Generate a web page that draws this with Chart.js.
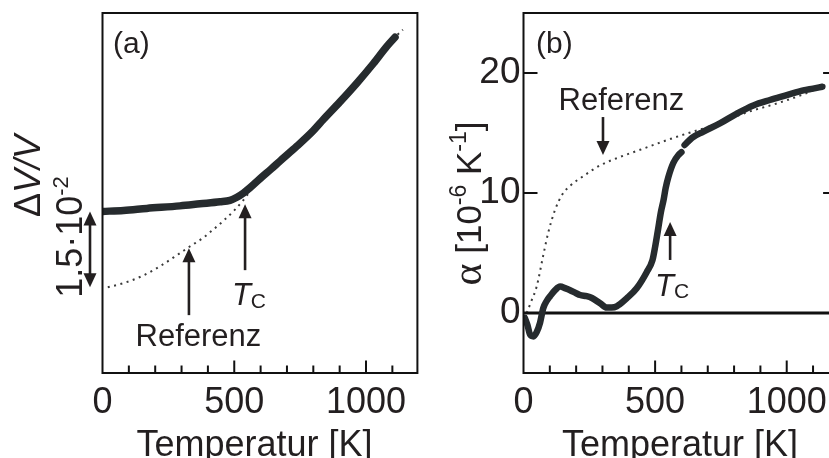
<!DOCTYPE html>
<html>
<head>
<meta charset="utf-8">
<script src="https://cdn.jsdelivr.net/npm/chart.js@4.4.0/dist/chart.umd.min.js"></script>
<style>
  html, body { margin: 0; padding: 0; background: #fff; overflow: hidden; width: 829px; height: 458px; }
  .panel { position: absolute; top: 0; width: 420px; height: 458px; }
  #wrapA { left: 0; }
  #wrapB { left: 420px; }
</style>
</head>
<body>
<div id="wrapA" class="panel"><canvas id="chartA" width="420" height="458"></canvas></div>
<div id="wrapB" class="panel"><canvas id="chartB" width="420" height="458"></canvas></div>
<script>
// ---- (a) relative volume change ΔV/V, in units of 10^-2, reference at 0 K set to 0 ----
const tempA = [0, 80, 168, 294, 370, 446, 484, 510, 534, 560, 598, 640, 674, 737, 800, 838, 901, 965, 1028, 1079, 1110];
const dvvA  = [1.50, 1.52, 1.56, 1.61, 1.65, 1.69, 1.72, 1.78, 1.86, 1.97, 2.15, 2.34, 2.50, 2.79, 3.10, 3.32, 3.67, 4.04, 4.43, 4.77, 4.95];
const tempRefA = [20, 80, 150, 220, 290, 330, 380, 420, 460, 500, 534, 560, 598, 640, 737, 800, 901, 1028, 1110, 1140];
const dvvRefA  = [0.00, 0.08, 0.22, 0.42, 0.66, 0.80, 0.97, 1.14, 1.32, 1.52, 1.72, 1.90, 2.13, 2.33, 2.78, 3.09, 3.66, 4.42, 4.95, 5.10];
const stepA = 1.5; // offset between measurement and reference at 0 K (x 10^-2)

// ---- (b) thermal expansion coefficient α, in 10^-6 K^-1 ----
const tempB  = [5, 15, 25, 38, 50, 63, 75, 88, 101, 120, 139, 160, 177, 200, 215, 240, 260, 291, 316, 335, 354, 392, 430, 468, 490, 500, 510, 522, 532, 540, 550, 569, 590, 600, null, 612, 640, 682, 746, 809, 873, 936, 1000, 1063, 1100, 1135];
const alphaB = [-0.4, -1.0, -1.8, -1.95, -1.6, -0.8, 0.4, 1.0, 1.4, 1.9, 2.2, 2.05, 1.9, 1.65, 1.5, 1.4, 1.25, 0.81, 0.45, 0.45, 0.55, 1.22, 2.06, 3.4, 4.4, 5.5, 6.8, 8.4, 9.4, 10.4, 11.3, 12.5, 13.2, 13.4, null, 14.0, 14.6, 15.1, 15.8, 16.6, 17.3, 17.75, 18.15, 18.55, 18.7, 18.85];
const tempRefB  = [12, 30, 50, 75, 94, 120, 148, 177, 227, 291, 354, 443, 544, 620, 700, 780, 860, 968, 1060, 1165];
const alphaRefB = [0.0, 1.0, 2.2, 4.8, 6.7, 8.6, 9.9, 10.6, 11.4, 12.3, 12.9, 13.6, 14.4, 14.95, 15.5, 16.15, 16.8, 17.5, 18.2, 19.15];

// ---- axis ticks ----
const xTickLabels = [0, 500, 1000];
const xMinorTicks = [100, 200, 300, 400, 600, 700, 800, 900, 1100];
const yTickLabelsB = [0, 10, 20];

const FONT = '"Liberation Sans", Arial, Helvetica, sans-serif';
const SERIF = '"Liberation Serif", "Times New Roman", serif';
const INK = '#231f20';
const DATA_INK = '#262b2e';
const REF_INK = '#3a3a3a';

function pts(xs, ys) { return xs.map((x, i) => ({ x: x, y: ys[i] })); }

function baseOptions(xMax, yMin, yMax, yTicks, yWidth, padRight) {
  return {
    responsive: false,
    animation: false,
    devicePixelRatio: 1,
    layout: { padding: { left: 0, right: padRight, top: 13, bottom: 0 } },
    plugins: { legend: { display: false }, tooltip: { enabled: false } },
    elements: { point: { radius: 0 } },
    scales: {
      x: {
        type: 'linear', min: 0, max: xMax,
        afterBuildTicks: s => { s.ticks = xTickLabels.map(v => ({ value: v })); },
        afterFit: s => { s.height = 85; s.paddingLeft = 0; s.paddingRight = 0; },
        grid: { display: false, drawTicks: false },
        border: { display: false },
        ticks: { font: { family: FONT, size: 36, lineHeight: 1.2 }, color: INK, padding: 8,
                 maxRotation: 0, autoSkip: false, callback: v => String(v) }
      },
      y: {
        type: 'linear', min: yMin, max: yMax,
        afterBuildTicks: s => { s.ticks = yTicks.map(v => ({ value: v })); },
        afterFit: s => { s.width = yWidth; s.paddingTop = 0; s.paddingBottom = 0; },
        grid: { display: false, drawTicks: false },
        border: { display: false },
        ticks: { display: yTicks.length > 0, font: { family: FONT, size: 37 }, color: INK,
                 padding: 3, callback: v => String(v) }
      }
    }
  };
}

// vertical arrow from (x, yTail) to (x, yTip); optional second head at the tail
function vArrow(ctx, x, yTail, yTip, both) {
  const dir = yTip < yTail ? -1 : 1;
  const headL = 14, half = 6.5;
  ctx.save();
  ctx.strokeStyle = INK; ctx.fillStyle = INK; ctx.lineWidth = 2.6;
  ctx.beginPath();
  ctx.moveTo(x, both ? yTail + dir * headL * 0.8 : yTail);
  ctx.lineTo(x, yTip - dir * headL * 0.8);
  ctx.stroke();
  const head = (yt, d) => {
    ctx.beginPath();
    ctx.moveTo(x, yt);
    ctx.lineTo(x - half, yt - d * headL);
    ctx.lineTo(x + half, yt - d * headL);
    ctx.closePath();
    ctx.fill();
  };
  head(yTip, dir);
  if (both) head(yTail, -dir);
  ctx.restore();
}

// text made of runs (font, raise) drawn along one baseline, optionally rotated
function richText(ctx, runs, x, y, align, rotate) {
  ctx.save();
  ctx.translate(x, y);
  if (rotate) ctx.rotate(rotate);
  ctx.fillStyle = INK;
  ctx.textBaseline = 'alphabetic';
  ctx.textAlign = 'left';
  let total = 0;
  runs.forEach(r => { ctx.font = r.font; r.w = ctx.measureText(r.t).width; total += r.w; });
  let cx = align === 'center' ? -total / 2 : 0;
  runs.forEach(r => { ctx.font = r.font; ctx.fillText(r.t, cx, -(r.raise || 0)); cx += r.w; });
  ctx.restore();
}

function drawXTicks(ctx, x, bottom) {
  ctx.strokeStyle = '#111'; ctx.lineWidth = 2;
  xMinorTicks.forEach(v => {
    const px = x.getPixelForValue(v);
    ctx.beginPath(); ctx.moveTo(px, bottom); ctx.lineTo(px, bottom - 7.5); ctx.stroke();
  });
  xTickLabels.filter(v => v > 0).forEach(v => {
    const px = x.getPixelForValue(v);
    ctx.beginPath(); ctx.moveTo(px, bottom); ctx.lineTo(px, bottom - 12.5); ctx.stroke();
  });
}

function drawFrame(ctx, a) {
  ctx.strokeStyle = '#111'; ctx.lineWidth = 2;
  ctx.strokeRect(a.left, a.top, a.right - a.left, a.bottom - a.top);
}

const TITLE_FONT = '36px ' + FONT;

// ---------- panel (a) ----------
const decorA = {
  id: 'decorA',
  afterDraw(chart) {
    const { ctx, chartArea: a, scales: { x, y } } = chart;
    ctx.save();
    drawFrame(ctx, a);
    drawXTicks(ctx, x, a.bottom);

    // panel letter
    richText(ctx, [{ t: '(a)', font: '30px ' + FONT }], x.getPixelForValue(40), y.getPixelForValue(4.63), 'left');

    // reference curve label and arrow
    vArrow(ctx, x.getPixelForValue(328), y.getPixelForValue(-0.554), y.getPixelForValue(0.772));
    richText(ctx, [{ t: 'Referenz', font: '31px ' + FONT }], x.getPixelForValue(364), y.getPixelForValue(-1.168), 'center');

    // Curie temperature
    vArrow(ctx, x.getPixelForValue(541), y.getPixelForValue(0.337), y.getPixelForValue(1.644));
    richText(ctx, [
      { t: 'T', font: 'italic 31px ' + FONT },
      { t: 'C', font: '21px ' + FONT, raise: -3 }
    ], x.getPixelForValue(491), y.getPixelForValue(-0.356), 'left');

    // scale bar: 1.5·10^-2 between measurement and reference at 0 K
    vArrow(ctx, a.left - 12.5, y.getPixelForValue(0), y.getPixelForValue(stepA), true);
    richText(ctx, [
      { t: '1.5\u00B710', font: '36px ' + FONT },
      { t: '-2', font: '22px ' + FONT, raise: 14 }
    ], 82, 237, 'center', -Math.PI / 2);

    // axis titles
    richText(ctx, [
      { t: '\u0394', font: '36px ' + FONT },
      { t: 'V/V', font: 'italic 36px ' + FONT }
    ], 40, 176, 'center', -Math.PI / 2);
    richText(ctx, [{ t: 'Temperatur [K]', font: TITLE_FONT }], 254.5, 456, 'center');
    ctx.restore();
  }
};

new Chart(document.getElementById('chartA'), {
  type: 'scatter',
  data: {
    datasets: [
      { label: 'Messung', data: pts(tempA, dvvA), showLine: true, borderColor: DATA_INK,
        borderWidth: 7.5, borderCapStyle: 'round', borderJoinStyle: 'round',
        cubicInterpolationMode: 'monotone', pointRadius: 0, order: 0 },
      { label: 'Referenz', data: pts(tempRefA, dvvRefA), showLine: true, borderColor: REF_INK,
        borderWidth: 2, borderDash: [2, 4.5], cubicInterpolationMode: 'monotone',
        pointRadius: 0, order: 1 }
    ]
  },
  options: baseOptions(1195, -1.7, 5.43, [], 102.5, 2.6),
  plugins: [decorA]
});

// ---------- panel (b) ----------
const decorB = {
  id: 'decorB',
  beforeDatasetsDraw(chart) {
    const { ctx, chartArea: a, scales: { y } } = chart;
    const y0 = y.getPixelForValue(0);
    ctx.save();
    ctx.strokeStyle = '#111'; ctx.lineWidth = 3;
    ctx.beginPath(); ctx.moveTo(a.left, y0); ctx.lineTo(a.right, y0); ctx.stroke();
    ctx.restore();
  },
  afterDraw(chart) {
    const { ctx, chartArea: a, scales: { x, y } } = chart;
    ctx.save();
    drawFrame(ctx, a);
    drawXTicks(ctx, x, a.bottom);
    ctx.strokeStyle = '#111'; ctx.lineWidth = 2;
    yTickLabelsB.forEach(v => {
      const py = y.getPixelForValue(v);
      ctx.beginPath(); ctx.moveTo(a.left, py); ctx.lineTo(a.left + 14, py); ctx.stroke();
      ctx.beginPath(); ctx.moveTo(a.right, py); ctx.lineTo(a.right - 11, py); ctx.stroke();
    });

    richText(ctx, [{ t: '(b)', font: '30px ' + FONT }], x.getPixelForValue(47.5), y.getPixelForValue(21.67), 'left');

    richText(ctx, [{ t: 'Referenz', font: '31px ' + FONT }], x.getPixelForValue(372), y.getPixelForValue(16.92), 'center');
    vArrow(ctx, x.getPixelForValue(302), y.getPixelForValue(16.33), y.getPixelForValue(13.17));

    vArrow(ctx, x.getPixelForValue(557), y.getPixelForValue(4.42), y.getPixelForValue(7.58));
    richText(ctx, [
      { t: 'T', font: 'italic 31px ' + FONT },
      { t: 'C', font: '21px ' + FONT, raise: -2 }
    ], x.getPixelForValue(500), y.getPixelForValue(1.42), 'left');

    richText(ctx, [
      { t: '\u03B1', font: '42px ' + SERIF },
      { t: ' [10', font: '35px ' + FONT },
      { t: '-6', font: '23px ' + FONT, raise: 15 },
      { t: ' K', font: '35px ' + FONT },
      { t: '-1', font: '23px ' + FONT, raise: 15 },
      { t: ']', font: '35px ' + FONT }
    ], 61, 203.5, 'center', -Math.PI / 2);
    richText(ctx, [{ t: 'Temperatur [K]', font: TITLE_FONT }], 260, 456, 'center');
    ctx.restore();
  }
};

new Chart(document.getElementById('chartB'), {
  type: 'scatter',
  data: {
    datasets: [
      { label: 'Messung', data: pts(tempB, alphaB), showLine: true, borderColor: DATA_INK,
        borderWidth: 6.5, borderCapStyle: 'round', borderJoinStyle: 'round',
        cubicInterpolationMode: 'monotone', spanGaps: false, pointRadius: 0, order: 0 },
      { label: 'Referenz', data: pts(tempRefB, alphaRefB), showLine: true, borderColor: REF_INK,
        borderWidth: 2, borderDash: [2, 4.5], cubicInterpolationMode: 'monotone',
        pointRadius: 0, order: 1 }
    ]
  },
  options: baseOptions(1180, -5, 25, yTickLabelsB, 103.5, 5.9),
  plugins: [decorB]
});
</script>
</body>
</html>
